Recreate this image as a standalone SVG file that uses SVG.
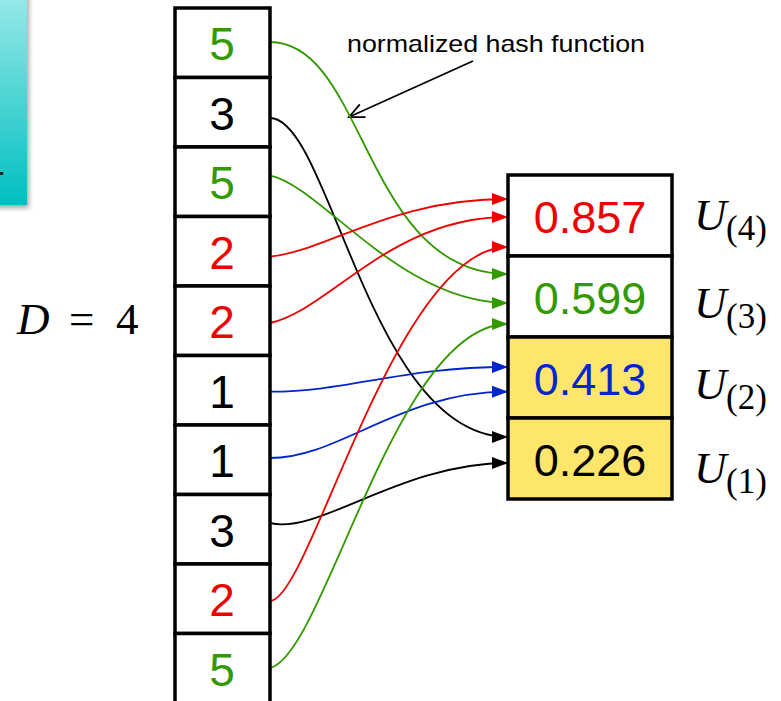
<svg xmlns="http://www.w3.org/2000/svg" width="781" height="701" viewBox="0 0 781 701">
<style>
.cell{fill:#fff;stroke:#000;stroke-width:3.5}
.ycell{fill:#fee66c;stroke:#000;stroke-width:3.5}
.num{font-family:"Liberation Sans",Arial,sans-serif;font-size:46px;text-anchor:middle}
.val{font-family:"Liberation Sans",Arial,sans-serif;font-size:45px;text-anchor:middle}
.math{font-family:"Liberation Serif","Times New Roman",serif;font-size:45px}
.sub{font-family:"Liberation Serif","Times New Roman",serif;font-size:35px;font-style:normal}
.g{fill:#339900}.r{fill:#ee0000}.b{fill:#0026cc}.k{fill:#000}
.c{fill:none;stroke-width:1.8}
</style>
<defs>
<linearGradient id="cyan" x1="0" y1="0" x2="0" y2="1">
<stop offset="0" stop-color="#9ee9e9"/>
<stop offset="1" stop-color="#00bfc0"/>
</linearGradient>
<filter id="sh" x="-50%" y="-20%" width="200%" height="140%"><feGaussianBlur stdDeviation="2.5"/></filter>
<marker id="aR" markerUnits="userSpaceOnUse" markerWidth="18" markerHeight="14" refX="16" refY="6" orient="auto"><path d="M0,0 L16,6 L0,12 z" fill="#ee0000"/></marker>
<marker id="aG" markerUnits="userSpaceOnUse" markerWidth="18" markerHeight="14" refX="16" refY="6" orient="auto"><path d="M0,0 L16,6 L0,12 z" fill="#339900"/></marker>
<marker id="aB" markerUnits="userSpaceOnUse" markerWidth="18" markerHeight="14" refX="16" refY="6" orient="auto"><path d="M0,0 L16,6 L0,12 z" fill="#0026cc"/></marker>
<marker id="aK" markerUnits="userSpaceOnUse" markerWidth="18" markerHeight="14" refX="16" refY="6" orient="auto"><path d="M0,0 L16,6 L0,12 z" fill="#000"/></marker>
<marker id="open" markerUnits="userSpaceOnUse" markerWidth="20" markerHeight="20" refX="16" refY="8" orient="auto"><path d="M1,1 L16,8 L1,15" fill="none" stroke="#000" stroke-width="1.8"/></marker>
</defs>
<rect width="781" height="701" fill="#fff"/>

<g id="cyan-panel">
<rect x="-10" y="-10" width="39" height="218" fill="#000" opacity="0.35" filter="url(#sh)"/>
<rect x="-10" y="-10" width="37" height="215" fill="url(#cyan)"/>
<text x="-20" y="182" font-family="Liberation Sans,Arial,sans-serif" font-size="44" fill="#222">4</text>
</g>

<g id="D-label"><text y="334" class="math"><tspan x="17" font-style="italic">D</tspan><tspan x="69">=</tspan><tspan x="116">4</tspan></text></g>

<g id="hash-label">
<text x="347" y="52" font-family="Liberation Sans,Arial,sans-serif" font-size="24" textLength="298" lengthAdjust="spacingAndGlyphs">normalized hash function</text>
<line x1="473" y1="61" x2="349" y2="117" stroke="#000" stroke-width="1.8" marker-end="url(#open)"/>
</g>

<g id="connectors">
<path class="c" stroke="#339900" d="M270,42 C366,42 364,274 508,274" marker-end="url(#aG)"/>
<path class="c" stroke="#000" d="M270,118 C330,118 370,437 508,437" marker-end="url(#aK)"/>
<path class="c" stroke="#339900" d="M270,175.7 C320,185 400,303 508,303" marker-end="url(#aG)"/>
<path class="c" stroke="#ee0000" d="M270,256.7 C330,250 390,199 508,199" marker-end="url(#aR)"/>
<path class="c" stroke="#ee0000" d="M270,323 C330,310 390,217 508,217" marker-end="url(#aR)"/>
<path class="c" stroke="#0026cc" d="M270,391.7 C350,391.7 400,367 508,367" marker-end="url(#aB)"/>
<path class="c" stroke="#0026cc" d="M270,458 C340,458 400,391.7 508,391.7" marker-end="url(#aB)"/>
<path class="c" stroke="#000" d="M270,523 C320,535 400,463 508,463" marker-end="url(#aK)"/>
<path class="c" stroke="#ee0000" d="M270,601 C310,601 395,247 508,247" marker-end="url(#aR)"/>
<path class="c" stroke="#339900" d="M270,668 C325,655 395,324 508,324" marker-end="url(#aG)"/>
</g>

<g id="cell0"><rect class="cell" x="175" y="8" width="95" height="69.5"/><text class="num g" x="222" y="60">5</text></g>
<g id="cell1"><rect class="cell" x="175" y="77.5" width="95" height="69.5"/><text class="num k" x="222" y="129.5">3</text></g>
<g id="cell2"><rect class="cell" x="175" y="147" width="95" height="69.5"/><text class="num g" x="222" y="199">5</text></g>
<g id="cell3"><rect class="cell" x="175" y="216.5" width="95" height="69.5"/><text class="num r" x="222" y="268.5">2</text></g>
<g id="cell4"><rect class="cell" x="175" y="286" width="95" height="69.5"/><text class="num r" x="222" y="338">2</text></g>
<g id="cell5"><rect class="cell" x="175" y="355.5" width="95" height="69.5"/><text class="num k" x="222" y="407.5">1</text></g>
<g id="cell6"><rect class="cell" x="175" y="425" width="95" height="69.5"/><text class="num k" x="222" y="477">1</text></g>
<g id="cell7"><rect class="cell" x="175" y="494.5" width="95" height="69.5"/><text class="num k" x="222" y="546.5">3</text></g>
<g id="cell8"><rect class="cell" x="175" y="564" width="95" height="69.5"/><text class="num r" x="222" y="616">2</text></g>
<g id="cell9"><rect class="cell" x="175" y="633.5" width="95" height="69.5"/><text class="num g" x="222" y="685.5">5</text></g>

<g id="u4"><rect class="cell" x="508" y="175" width="164" height="81"/><text class="val r" x="590" y="233">0.857</text></g>
<g id="u3"><rect class="cell" x="508" y="256" width="164" height="81"/><text class="val g" x="590" y="314">0.599</text></g>
<g id="u2"><rect class="ycell" x="508" y="337" width="164" height="81"/><text class="val b" x="590" y="395">0.413</text></g>
<g id="u1"><rect class="ycell" x="508" y="418" width="164" height="81"/><text class="val k" x="590" y="476">0.226</text></g>

<g id="U-labels">
<text class="math" x="694" y="230"><tspan font-style="italic">U</tspan><tspan class="sub" x="726" y="240">(4)</tspan></text>
<text class="math" x="694" y="318"><tspan font-style="italic">U</tspan><tspan class="sub" x="726" y="328">(3)</tspan></text>
<text class="math" x="694" y="399"><tspan font-style="italic">U</tspan><tspan class="sub" x="726" y="409">(2)</tspan></text>
<text class="math" x="694" y="483"><tspan font-style="italic">U</tspan><tspan class="sub" x="726" y="493">(1)</tspan></text>
</g>
</svg>
